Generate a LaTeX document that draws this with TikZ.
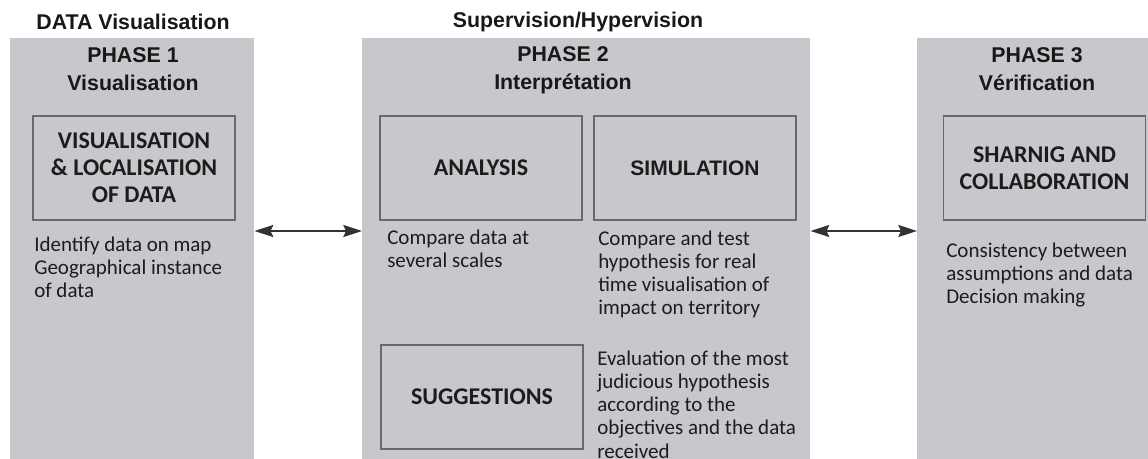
\documentclass[tikz,border=0pt]{standalone}
\usepackage{fontspec}
\setmainfont{Carlito}
\newfontfamily\headfont{Liberation Sans}
\usepackage{xcolor}
\usetikzlibrary{arrows.meta}

\definecolor{panelgray}{RGB}{199,200,204}
\definecolor{edgegray}{RGB}{105,105,105}
\definecolor{inkgray}{RGB}{28,28,28}

\begin{document}
\begin{tikzpicture}[
    x=0.75pt, y=-0.75pt,
    panel/.style={rectangle, fill=panelgray, inner sep=0, anchor=north west, minimum height=315.75pt},
    phasebox/.style={rectangle, draw=edgegray, line width=1.1pt, fill=panelgray, minimum width=151.5pt, minimum height=78pt, align=center, text=inkgray, font=\bfseries\fontsize{18}{20.25}\selectfont},
    heading/.style={anchor=base, align=center, inner sep=0, text=inkgray!85!black, font=\headfont\bfseries\fontsize{16}{21}\selectfont},
    desc/.style={anchor=base west, align=left, inner sep=0, text=inkgray, font=\fontsize{15.75}{17.4}\selectfont},
    link/.style={{Stealth[length=14pt, width=9pt, inset=2pt]}-{Stealth[length=14pt, width=9pt, inset=2pt]}, line width=1.5pt, draw=black!80},
  ]
    \useasboundingbox (0,0) rectangle (1148,459);

    % Panels
    \node[panel, minimum width=183pt] (p1) at (10,38) {};
    \node[panel, minimum width=336pt] (p2) at (362,38) {};
    \node[panel, minimum width=174pt] (p3) at (917,38) {};

    % Titles
    \node[heading] (t1) at (133,30) {DATA Visualisation};
    \node[heading] (t2) at (578,28) {Supervision/Hypervision};

    % Phase 1 (multi-line nodes sit on their last baseline)
    \node[heading] (h1) at (133,91) {PHASE 1\\Visualisation};
    \node[phasebox] (vis) at (134,168) {VISUALISATION\\\& LOCALISATION\\OF DATA};
    \node[desc] (d1) at (34,298) {Identify data on map\\Geographical instance\\of data};

    % Phase 2
    \node[heading] (h2) at (563,90) {PHASE 2\\Interprétation};
    \node[phasebox] (ana) at (481,168) {ANALYSIS};
    \node[phasebox, font=\headfont\bfseries\fontsize{15.75}{18}\selectfont] (sim) at (695,168) {SIMULATION};
    \node[phasebox] (sug) at (482,397) {SUGGESTIONS};
    \node[desc] (d2) at (387,268) {Compare data at\\several scales};
    \node[desc] (d3) at (598,315) {Compare and test\\hypothesis for real\\time visualisation of\\impact on territory};
    \node[desc] (d4) at (597,458) {Evaluation of the most\\judicious hypothesis\\according to the\\objectives and the data\\received};

    % Phase 3
    \node[heading] (h3) at (1037,91) {PHASE 3\\Vérification};
    \node[phasebox] (share) at (1044.5,168) {SHARNIG AND\\COLLABORATION};
    \node[desc] (d5) at (946,304) {Consistency between\\assumptions and data\\Decision making};

    % Links
    \coordinate (row) at (0,231);
    \draw[link] (p1.east |- row) -- (p2.west |- row);
    \draw[link] (p2.east |- row) -- (p3.west |- row);

  \end{tikzpicture}
\end{document}
